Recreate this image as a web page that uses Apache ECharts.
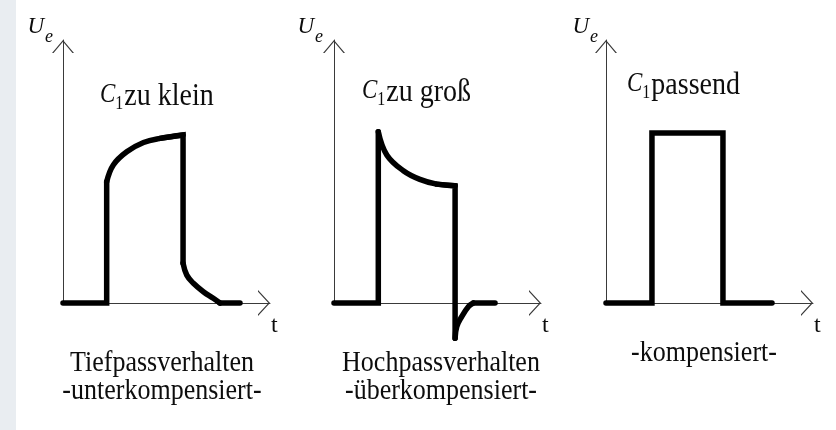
<!DOCTYPE html>
<html>
<head>
<meta charset="utf-8">
<script src="https://cdn.jsdelivr.net/npm/echarts@6/dist/echarts.min.js"></script>
<style>
  html, body { margin: 0; padding: 0; background: #fff; }
  #chart { width: 836px; height: 430px; }
</style>
</head>
<body>
<div id="chart"></div>
<script>
// Tiefpass (C1 zu klein)
const tpStep = [[0, 0], [2.11, 0], [2.11, 4.61]];
const tpRise = [[2.11, 4.61], [2.43, 5.25], [3.08, 5.75], [3.89, 6.1], [4.69, 6.26], [5.8, 6.39]];
const tpDrop = [[4.69, 6.26], [5.8, 6.39], [5.8, 1.51]];
const tpDecay = [[5.8, 1.51], [5.98, 1.06], [6.3, 0.75], [6.78, 0.43], [7.26, 0.18], [7.58, 0]];
const tpTail = [[7.58, 0], [8.55, 0]];

// Hochpass (C1 zu groß)
const hpStep = [[0, 0], [2.14, 0], [2.14, 6.51]];
const hpSag = [[2.14, 6.51], [2.55, 5.63], [3.35, 5.03], [4.15, 4.7], [4.96, 4.52], [5.85, 4.46]];
const hpDrop = [[4.96, 4.52], [5.85, 4.46], [5.85, -1.34]];
const hpRecover = [[5.85, -1.34], [5.93, -0.9], [6.17, -0.52], [6.49, -0.14], [6.73, 0]];
const hpTail = [[6.73, 0], [7.78, 0]];

// kompensiert (C1 passend)
const kpPulse = [[0, 0], [2.22, 0], [2.22, 6.46], [5.65, 6.46], [5.65, 0], [8.02, 0]];

const capText = ["zu klein", "zu groß", "passend"];
const noteText = ["Tiefpassverhalten\n-unterkompensiert-", "Hochpassverhalten\n-überkompensiert-", "-kompensiert-"];

const FONT = '"Liberation Serif", "Times New Roman", serif';
const INK = "#0d0d0d";
const STRETCH = 1.15; // the source lettering is a bit tall

// open arrow heads (chevrons), pointing up before rotation
const yArrow = "path://M0,13 L11,0 L22,13 L20.43,13 L11,1.86 L1.57,13 Z";
const xArrow = "path://M0,12 L13,0 L26,12 L24.2,12 L13,1.6 L1.8,12 Z";

const panels = [
  { left: 63, nameRight: 10, capX: 100, capY: 80.2, noteX: 162, noteY: 348.8,
    segs: [[tpStep, false], [tpRise, true], [tpDrop, false], [tpDecay, true], [tpTail, false]] },
  { left: 334, nameRight: 11, capX: 362, capY: 76.2, noteX: 441, noteY: 348.8,
    segs: [[hpStep, false], [hpSag, true], [hpDrop, false], [hpRecover, true], [hpTail, false]] },
  { left: 606, nameRight: 8, capX: 627, capY: 69.2, noteX: 704, noteY: 338.8,
    segs: [[kpPulse, false]] },
];

const grid = [], xAxis = [], yAxis = [], series = [];
const graphic = [
  { type: "rect", z: -10, shape: { x: 0, y: 0, width: 16, height: 430 }, style: { fill: "#e9edf1" } },
];

panels.forEach((p, i) => {
  grid.push({ left: p.left, top: 40, width: 207, height: 263 });

  xAxis.push({
    type: "value",
    gridIndex: i,
    min: 0,
    max: 10,
    name: "t",
    nameLocation: "end",
    nameGap: 1,
    nameTextStyle: {
      fontFamily: FONT, fontSize: 24, color: INK,
      align: "left", verticalAlign: "top", lineHeight: 24, padding: [11, 0, 0, 0],
    },
    axisLine: {
      show: true,
      onZero: true,
      symbol: ["none", xArrow],
      symbolSize: [26, 12],
      symbolOffset: [0, -6],
      lineStyle: { color: "#3a3a3a", width: 1 },
    },
    axisTick: { show: false },
    axisLabel: { show: false },
    splitLine: { show: false },
  });

  yAxis.push({
    type: "value",
    gridIndex: i,
    min: 0,
    max: 10,
    name: "{u|U}{e|e}",
    nameLocation: "end",
    nameGap: 2,
    nameTextStyle: {
      align: "right",
      verticalAlign: "bottom",
      padding: [0, p.nameRight, 0, 0],
      rich: {
        u: { fontFamily: FONT, fontStyle: "italic", fontSize: 23, lineHeight: 23, color: INK, verticalAlign: "top" },
        e: { fontFamily: FONT, fontStyle: "italic", fontSize: 18, lineHeight: 18, color: INK, verticalAlign: "top", padding: [13, 0, 0, 1] },
      },
    },
    axisLine: {
      show: true,
      onZero: true,
      symbol: ["none", yArrow],
      symbolSize: [22, 13],
      symbolOffset: [0, -6.5],
      lineStyle: { color: "#3a3a3a", width: 1 },
    },
    axisTick: { show: false },
    axisLabel: { show: false },
    splitLine: { show: false },
  });

  p.segs.forEach(([data, smooth]) => {
    series.push({
      type: "line",
      xAxisIndex: i,
      yAxisIndex: i,
      data: data,
      smooth: smooth ? 0.4 : false,
      symbol: "none",
      clip: false,
      silent: true,
      animation: false,
      lineStyle: { color: "#000", width: 5.5, cap: "round", join: "miter" },
    });
  });

  // C1 label above the curve
  graphic.push({
    type: "text",
    x: p.capX,
    y: p.capY,
    scaleY: STRETCH,
    silent: true,
    style: {
      text: "{c|C}{s|1}{t|" + capText[i] + "}",
      align: "left",
      verticalAlign: "top",
      rich: {
        c: { fontFamily: FONT, fontStyle: "italic", fontSize: 23, lineHeight: 23, fill: INK, verticalAlign: "top", padding: [1, 0, 0, 0] },
        s: { fontFamily: FONT, fontSize: 16, lineHeight: 16, fill: INK, verticalAlign: "top", padding: [13, 1, 0, 0] },
        t: { fontFamily: FONT, fontSize: 28, lineHeight: 28, fill: INK, verticalAlign: "top" },
      },
    },
  });

  // caption under the axis
  graphic.push({
    type: "text",
    x: p.noteX,
    y: p.noteY,
    scaleY: STRETCH,
    silent: true,
    style: {
      text: noteText[i],
      font: "26px " + FONT,
      lineHeight: 24.5,
      fill: INK,
      align: "center",
      verticalAlign: "top",
    },
  });
});

const chart = echarts.init(document.getElementById("chart"));
chart.setOption({
  backgroundColor: "#fff",
  animation: false,
  grid: grid,
  xAxis: xAxis,
  yAxis: yAxis,
  series: series,
  graphic: graphic,
});
</script>
</body>
</html>
